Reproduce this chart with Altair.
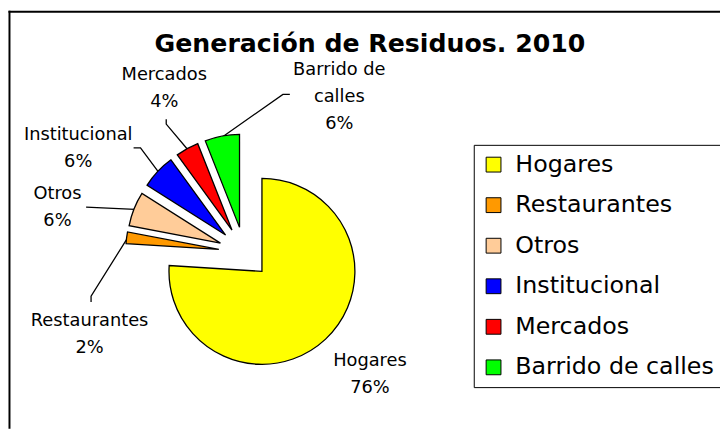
import math
import altair as alt
import pandas as pd

# ---- data ----
categories = ["Hogares", "Restaurantes", "Otros", "Institucional", "Mercados", "Barrido de calles"]
values = [76, 2, 6, 6, 4, 6]
label_names = ["Hogares", "Restaurantes", "Otros", "Institucional", "Mercados", "Barrido de\ncalles"]
colors = ["#FFFF00", "#FF9900", "#FFCC99", "#0000FF", "#FF0000", "#00FF00"]
title_text = "Generación de Residuos. 2010"

# ---- layout (pixels, chart coordinates) ----
W, H = 720, 423
CX, CY = 239, 245          # pie centre
R = 94                      # pie radius
EXPLODE = 26                # slice explosion distance
FONT = "DejaVu Sans"
LABEL_LH = 27.5

# label centre offsets from pie centre (manually placed labels)
label_offsets = {
    "Hogares": (127, 123),
    "Restaurantes": (-156.5, 83),
    "Otros": (-189, -45.5),
    "Institucional": (-168, -105.5),
    "Mercados": (-81, -166),
    "Barrido de calles": (96, -157),
}
# leader line bend points (offsets from pie centre), after the slice anchor
leader_bends = {
    "Restaurantes": [(-155, 44), (-155, 50)],
    "Otros": [(-160, -46)],
    "Institucional": [(-105, -106), (-112, -106)],
    "Mercados": [(-79, -130), (-79, -135)],
    "Barrido de calles": [(39, -160), (46, -160)],
}

total = sum(values)
rows, lab_rows, line_rows = [], [], []
cum = 0
for i, (c, v) in enumerate(zip(categories, values)):
    start, end = cum, cum + v
    cum = end
    mid = 2 * math.pi * (start + v / 2) / total
    dx, dy = math.sin(mid), -math.cos(mid)
    rows.append(dict(cat=c, start=start / total * 100, end=end / total * 100,
                     px=CX + EXPLODE * dx, py=CY + EXPLODE * dy, idx=i))
    lo = label_offsets[c]
    txt = f"{label_names[i]}\n{v}%"
    n_lines = txt.count("\n") + 1
    lab_rows.append(dict(cat=c, text=txt, lx=CX + lo[0],
                         ly=CY + lo[1] - (n_lines - 1) * LABEL_LH / 2))
    if c in leader_bends:
        pts = [(CX + (EXPLODE + R - 1) * dx, CY + (EXPLODE + R - 1) * dy)]
        pts += [(CX + bx, CY + by) for bx, by in leader_bends[c]]
        for k, (x, y) in enumerate(pts):
            line_rows.append(dict(cat=c, k=k, x=x, y=y))

df = pd.DataFrame(rows)
df_lab = pd.DataFrame(lab_rows)
df_line = pd.DataFrame(line_rows)

pie = alt.Chart(df).mark_arc(radius=R, stroke="black", strokeWidth=1.3).encode(
    x=alt.X("px:Q", scale=None, axis=None),
    y=alt.Y("py:Q", scale=None, axis=None),
    theta=alt.Theta("start:Q", scale=alt.Scale(domain=[0, 100], range=[0, 2 * math.pi])),
    theta2="end:Q",
    color=alt.Color(
        "cat:N",
        scale=alt.Scale(domain=categories, range=colors),
        legend=alt.Legend(
            title=None, orient="none", legendX=471, legendY=136,
            symbolType="square", symbolSize=225, symbolStrokeColor="black",
            symbolStrokeWidth=1, labelFont=FONT, labelFontSize=24,
            labelColor="black", labelOffset=10, rowPadding=17, padding=8,
            strokeColor="black", fillColor="white", labelLimit=400,
        ),
    ),
)

leaders = alt.Chart(df_line).mark_line(color="black", strokeWidth=1.3).encode(
    x=alt.X("x:Q", scale=None, axis=None),
    y=alt.Y("y:Q", scale=None, axis=None),
    detail="cat:N",
    order="k:Q",
)

labels = alt.Chart(df_lab).mark_text(
    font=FONT, fontSize=18, lineHeight=LABEL_LH, lineBreak="\n",
    align="center", baseline="middle", color="black",
).encode(
    x=alt.X("lx:Q", scale=None, axis=None),
    y=alt.Y("ly:Q", scale=None, axis=None),
    text="text:N",
)

title = alt.Chart(pd.DataFrame({"t": [title_text]})).mark_text(
    font=FONT, fontSize=25.5, fontWeight="bold", align="center", baseline="alphabetic", color="black",
).encode(x=alt.value(366), y=alt.value(42), text="t:N")

frame_left = alt.Chart(pd.DataFrame({"a": [0]})).mark_rule(color="black", strokeWidth=2).encode(
    x=alt.value(1.5), y=alt.value(0.5), y2=alt.value(H))
frame_top = alt.Chart(pd.DataFrame({"a": [0]})).mark_rule(color="black", strokeWidth=2).encode(
    y=alt.value(1.5), x=alt.value(0.5), x2=alt.value(W))

chart = alt.layer(frame_left, frame_top, leaders, pie, labels, title).properties(
    width=W, height=H, padding=0, autosize=alt.AutoSizeParams(type="none"),
    background="white",
).configure_view(stroke=None)

chart.save("out.html", embed_options={"renderer": "svg", "actions": False})
